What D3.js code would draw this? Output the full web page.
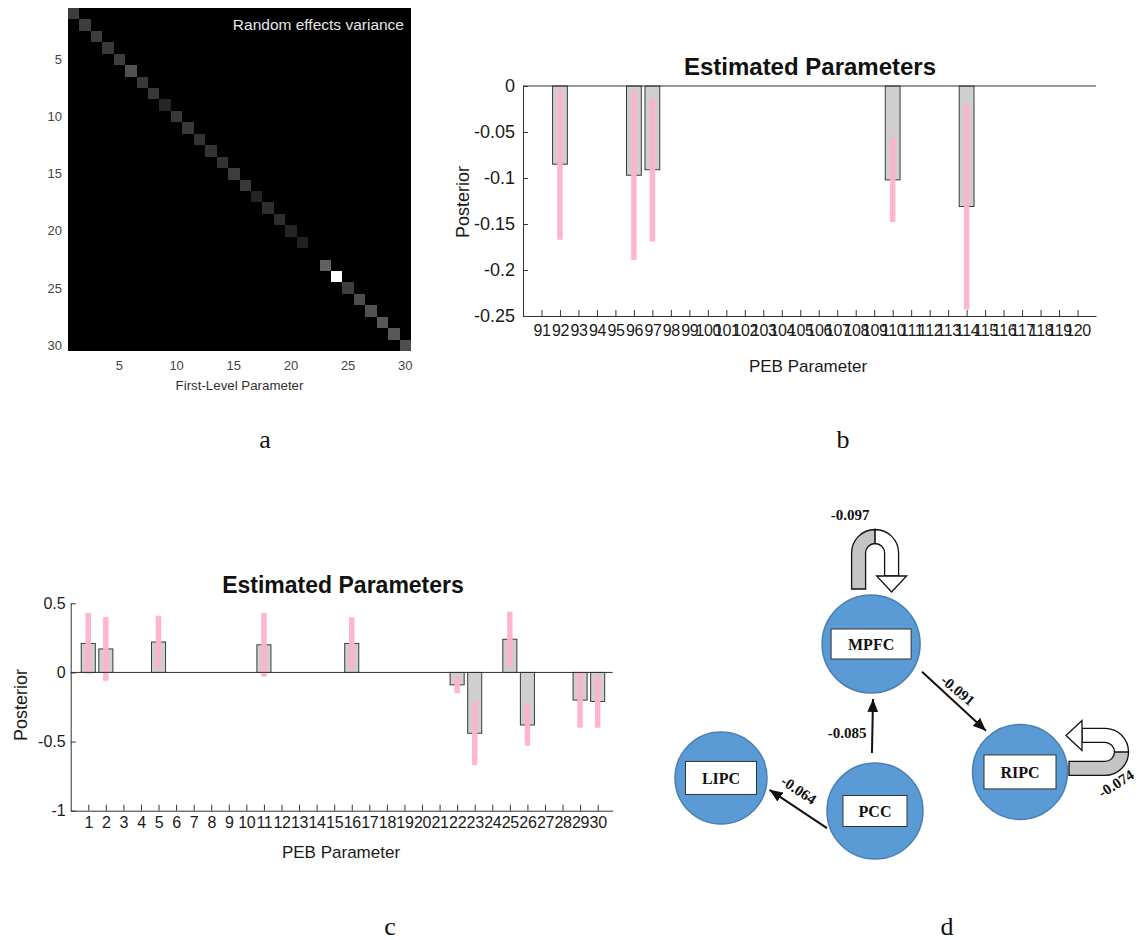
<!DOCTYPE html>
<html>
<head>
<meta charset="utf-8">
<style>
  body { margin: 0; background: #fff; }
  svg { display: block; font-family: "Liberation Sans", Arial, sans-serif; }
</style>
</head>
<body>
<svg id="fig" width="1138" height="940"></svg>
<script src="https://d3js.org/d3.v7.min.js"></script>
<script>
// ---------- panel a : random effects variance (diagonal of 30 x 30 matrix)
const firstLevelParams = [1, 2, 3, 4, 5, 6, 7, 8, 9, 10, 11, 12, 13, 14, 15,
  16, 17, 18, 19, 20, 21, 22, 23, 24, 25, 26, 27, 28, 29, 30];
const reVarianceDiag = [0.24, 0.24, 0.24, 0.22, 0.24, 0.32, 0.22, 0.22, 0.15, 0.22,
  0.22, 0.2, 0.2, 0.2, 0.24, 0.22, 0.14, 0.18, 0.18, 0.14,
  0.13, 0.0, 0.38, 1.0, 0.24, 0.3, 0.32, 0.34, 0.34, 0.3];
const aTicks = [5, 10, 15, 20, 25, 30];

// ---------- panel b : estimated parameters 91..120
const pebParamsB = [91, 92, 93, 94, 95, 96, 97, 98, 99, 100, 101, 102, 103, 104, 105,
  106, 107, 108, 109, 110, 111, 112, 113, 114, 115, 116, 117, 118, 119, 120];
const posteriorB = [0, -0.085, 0, 0, 0, -0.097, -0.091, 0, 0, 0, 0, 0, 0, 0, 0,
  0, 0, 0, 0, -0.102, 0, 0, 0, -0.131, 0, 0, 0, 0, 0, 0];
const ciB = [0, 0.082, 0, 0, 0, 0.092, 0.078, 0, 0, 0, 0, 0, 0, 0, 0,
  0, 0, 0, 0, 0.046, 0, 0, 0, 0.112, 0, 0, 0, 0, 0, 0];
const bYTicks = [0, -0.05, -0.1, -0.15, -0.2, -0.25];

// ---------- panel c : estimated parameters 1..30
const pebParamsC = firstLevelParams;
const posteriorC = [0.21, 0.17, 0, 0, 0.22, 0, 0, 0, 0, 0, 0.2, 0, 0, 0, 0,
  0.21, 0, 0, 0, 0, 0, -0.09, -0.44, 0, 0.24, -0.38, 0, 0, -0.2, -0.21];
const ciC = [0.22, 0.23, 0, 0, 0.19, 0, 0, 0, 0, 0, 0.23, 0, 0, 0, 0,
  0.19, 0, 0, 0, 0, 0, 0.06, 0.23, 0, 0.2, 0.15, 0, 0, 0.2, 0.19];
const cYTicks = [0.5, 0, -0.5, -1];

// ---------- panel d : effective connectivity diagram
const regions = ["MPFC", "RIPC", "LIPC", "PCC"];
const regionCol = [0.502, 1.0, 0.0, 0.515];   // layout units
const regionRow = [0.0, 0.766, 0.802, 1.0];
const connFrom = ["PCC", "MPFC", "PCC"];
const connTo = ["MPFC", "RIPC", "LIPC"];
const connValue = [-0.085, -0.091, -0.064];
const selfRegion = ["MPFC", "RIPC"];
const selfValue = [-0.097, -0.074];

const panelLetters = ["a", "b", "c", "d"];

const svg = d3.select("#fig");

// ================= panel a =================
(function () {
  const x = d3.scaleBand().domain(firstLevelParams).range([68, 411]);
  const y = d3.scaleBand().domain(firstLevelParams).range([8, 351]);
  const grey = d3.scaleLinear().domain([0, 1]).range(["#000", "#fff"]);

  const cells = [];
  firstLevelParams.forEach((r, i) => firstLevelParams.forEach((c, j) => {
    cells.push({ r, c, v: i === j ? reVarianceDiag[i] : 0 });
  }));

  const g = svg.append("g");
  g.append("rect").attr("x", 68).attr("y", 8).attr("width", 343).attr("height", 343)
    .attr("fill", "#000");
  g.selectAll(".cell").data(cells).join("rect")
    .attr("x", d => x(d.c)).attr("y", d => y(d.r))
    .attr("width", x.bandwidth()).attr("height", y.bandwidth())
    .attr("shape-rendering", "crispEdges")
    .attr("fill", d => grey(d.v));

  g.append("text").attr("x", 404).attr("y", 30).attr("text-anchor", "end")
    .attr("fill", "#e6e6e6").attr("font-size", 15.5).text("Random effects variance");

  g.selectAll(".yl").data(aTicks).join("text")
    .attr("x", 62).attr("y", d => y(d) + y.bandwidth() / 2 + 4.5)
    .attr("text-anchor", "end").attr("font-size", 13).attr("fill", "#444")
    .text(d => d);
  g.selectAll(".xl").data(aTicks).join("text")
    .attr("x", d => x(d) + x.bandwidth() / 2).attr("y", 370)
    .attr("text-anchor", "middle").attr("font-size", 13).attr("fill", "#444")
    .text(d => d);
  g.append("text").attr("x", 239.5).attr("y", 390).attr("text-anchor", "middle")
    .attr("font-size", 13.3).attr("fill", "#333").text("First-Level Parameter");
})();

// ================= panels b and c (spm style bar + ci) =================
function barPanel(cfg) {
  const g = svg.append("g");
  const x = d3.scaleLinear().domain(cfg.xDomain).range(cfg.xRange);
  const y = d3.scaleLinear().domain(cfg.yDomain).range(cfg.yRange);
  const data = cfg.params.map((p, i) => ({ p, v: cfg.values[i], ci: cfg.ci[i] }));
  const bw = x(0.8) - x(0);

  g.selectAll(".bar").data(data.filter(d => d.v !== 0)).join("rect")
    .attr("x", d => x(d.p) - bw / 2)
    .attr("y", d => Math.min(y(d.v), y(0)))
    .attr("width", bw)
    .attr("height", d => Math.abs(y(d.v) - y(0)))
    .attr("fill", "#cfcfcf").attr("stroke", "#3a3a3a").attr("stroke-width", 1);

  g.selectAll(".ci").data(data.filter(d => d.ci > 0)).join("line")
    .attr("x1", d => x(d.p)).attr("x2", d => x(d.p))
    .attr("y1", d => y(d.v - d.ci)).attr("y2", d => y(d.v + d.ci))
    .attr("stroke", "#ffb3c8").attr("stroke-width", 5.5).attr("opacity", 0.95);

  // zero line
  g.append("line").attr("x1", cfg.xRange[0]).attr("x2", cfg.xRange[1])
    .attr("y1", y(0)).attr("y2", y(0)).attr("stroke", "#333").attr("stroke-width", 1);

  const xAxis = d3.axisBottom(x).tickValues(cfg.params).tickFormat(d => d)
    .tickSizeInner(-6).tickSizeOuter(0).tickPadding(cfg.xPad);
  const yAxis = d3.axisLeft(y).tickValues(cfg.yTicks).tickFormat(d => String(d))
    .tickSizeInner(-5).tickSizeOuter(0).tickPadding(cfg.yPad);

  const gx = g.append("g").attr("transform", `translate(0,${cfg.yRange[0]})`).call(xAxis);
  const gy = g.append("g").attr("transform", `translate(${cfg.xRange[0]},0)`).call(yAxis);
  [gx, gy].forEach(a => {
    a.select(".domain").attr("stroke", "#333");
    a.selectAll(".tick line").attr("stroke", "#333");
    a.selectAll("text").attr("fill", "#1a1a1a")
      .attr("font-family", "'Liberation Sans', Arial, sans-serif");
  });
  gx.selectAll("text").attr("font-size", cfg.xFont).attr("letter-spacing", cfg.xSpacing);
  gy.selectAll("text").attr("font-size", cfg.yFont);

  g.append("text").attr("x", cfg.titleX).attr("y", cfg.titleY).attr("text-anchor", "middle")
    .attr("font-weight", "bold").attr("font-size", cfg.titleSize).attr("fill", "#111")
    .text("Estimated Parameters");
  g.append("text").attr("x", cfg.xLabelX).attr("y", cfg.xLabelY).attr("text-anchor", "middle")
    .attr("font-size", 17).attr("fill", "#1a1a1a").text("PEB Parameter");
  g.append("text")
    .attr("transform", `translate(${cfg.yLabelX},${cfg.yLabelY}) rotate(-90)`)
    .attr("text-anchor", "middle").attr("font-size", 18).attr("fill", "#1a1a1a")
    .text("Posterior");
}

barPanel({
  params: pebParamsB, values: posteriorB, ci: ciB, yTicks: bYTicks,
  xDomain: [90, 121], xRange: [523, 1096],
  yDomain: [-0.25, 0], yRange: [316, 86],
  xPad: 9, yPad: 8, xFont: 16, xSpacing: -0.4, yFont: 18,
  titleX: 810, titleY: 75, titleSize: 24,
  xLabelX: 808, xLabelY: 372, yLabelX: 469, yLabelY: 202
});

barPanel({
  params: pebParamsC, values: posteriorC, ci: ciC, yTicks: cYTicks,
  xDomain: [0, 30.85], xRange: [70.7, 612.6],
  yDomain: [-1, 0.5], yRange: [810.7, 603.3],
  xPad: 6, yPad: 5, xFont: 16, xSpacing: -0.3, yFont: 16,
  titleX: 343, titleY: 593, titleSize: 23,
  xLabelX: 341, xLabelY: 858, yLabelX: 27, yLabelY: 705
});

// ================= panel d =================
(function () {
  const g = svg.append("g").attr("font-family", "'Liberation Serif', 'Times New Roman', serif");
  const px = d3.scaleLinear().domain([0, 1]).range([721, 1020]);
  const py = d3.scaleLinear().domain([0, 1]).range([644, 811]);

  const nodeR = { MPFC: 49, RIPC: 47.5, LIPC: 46, PCC: 48 };
  const boxW = { MPFC: 80, RIPC: 72, LIPC: 71, PCC: 64 };
  const boxH = { MPFC: 30, RIPC: 34, LIPC: 33, PCC: 31 };
  const nodes = regions.map((name, i) => ({
    name, x: px(regionCol[i]), y: py(regionRow[i]), r: nodeR[name]
  }));
  const byName = Object.fromEntries(nodes.map(n => [n.name, n]));

  g.append("defs").append("marker")
    .attr("id", "ah").attr("viewBox", "0 0 12 10").attr("refX", 12).attr("refY", 5)
    .attr("markerWidth", 13).attr("markerHeight", 11).attr("markerUnits", "userSpaceOnUse")
    .attr("orient", "auto")
    .append("path").attr("d", "M0,0 L12,5 L0,10 Z").attr("fill", "#111");

  const ng = g.selectAll(".node").data(nodes).join("g")
    .attr("transform", d => `translate(${d.x},${d.y})`);
  ng.append("circle").attr("r", d => d.r)
    .attr("fill", "#5b9bd5").attr("stroke", "#4a7fb0").attr("stroke-width", 1.5);
  ng.append("rect")
    .attr("x", d => -boxW[d.name] / 2).attr("y", d => -boxH[d.name] / 2)
    .attr("width", d => boxW[d.name]).attr("height", d => boxH[d.name])
    .attr("fill", "#fff").attr("stroke", "#333").attr("stroke-width", 1);
  ng.append("text").attr("text-anchor", "middle").attr("y", 6)
    .attr("font-weight", "bold").attr("font-size", 16).attr("fill", "#111")
    .text(d => d.name);

  // attachment angles / gaps and label placement for each connection
  const connLayout = [
    { a0: -93, a1: 88, g0: 10, g1: 6, ldx: -6, ldy: 11.5, rot: 0, anchor: "end" },
    { a0: 28.6, a1: -129.5, g0: 9, g1: 6, ldx: 4, ldy: -11, rot: 40, anchor: "middle" },
    { a0: 160.3, a1: 13.8, g0: 3, g1: 4, ldx: 0.6, ldy: -19, rot: 34, anchor: "middle" }
  ];
  const pt = (n, ang, gap) => {
    const a = ang * Math.PI / 180;
    return [n.x + (n.r + gap) * Math.cos(a), n.y + (n.r + gap) * Math.sin(a)];
  };
  const conns = connFrom.map((f, i) => {
    const L = connLayout[i];
    const p0 = pt(byName[f], L.a0, L.g0), p1 = pt(byName[connTo[i]], L.a1, L.g1);
    return { p0, p1, v: connValue[i], L };
  });
  g.selectAll(".edge").data(conns).join("line")
    .attr("x1", d => d.p0[0]).attr("y1", d => d.p0[1])
    .attr("x2", d => d.p1[0]).attr("y2", d => d.p1[1])
    .attr("stroke", "#111").attr("stroke-width", 2).attr("marker-end", "url(#ah)");
  g.selectAll(".elab").data(conns).join("text")
    .attr("transform", d => {
      const mx = (d.p0[0] + d.p1[0]) / 2 + d.L.ldx, my = (d.p0[1] + d.p1[1]) / 2 + d.L.ldy;
      return `translate(${mx},${my}) rotate(${d.L.rot})`;
    })
    .attr("text-anchor", d => d.L.anchor)
    .attr("dy", d => d.L.anchor === "end" ? 0 : "0.35em")
    .attr("font-weight", "bold").attr("font-size", 15).attr("fill", "#111")
    .text(d => d.v.toFixed(3));

  // self connections: curved block arrows
  const ro = 23.5, ri = 9.5, legGrey = 36, legWhite = 23, head = 16, headHalf = 15;
  const selfLayout = [
    { ox: 4, oy: -91, m: [1, 0, 0, 1], lx: -21, ly: -124, lrot: 0 },
    { ox: 85, oy: -20, m: [0, -1, -1, 0], lx: 96, ly: 11.5, lrot: -32 }
  ];
  selfRegion.forEach((name, i) => {
    const n = byName[name], L = selfLayout[i];
    const lg = g.append("g")
      .attr("transform", `matrix(${L.m.join(",")},${n.x + L.ox},${n.y + L.oy})`);
    const greyPath = d3.path();
    greyPath.moveTo(-ro, legGrey); greyPath.lineTo(-ro, 0);
    greyPath.arc(0, 0, ro, Math.PI, 1.5 * Math.PI);
    greyPath.lineTo(0, -ri);
    greyPath.arc(0, 0, ri, 1.5 * Math.PI, Math.PI, true);
    greyPath.lineTo(-ri, legGrey); greyPath.closePath();
    const whitePath = d3.path();
    whitePath.moveTo(0, -ro);
    whitePath.arc(0, 0, ro, 1.5 * Math.PI, 2 * Math.PI);
    whitePath.lineTo(ro, legWhite); whitePath.lineTo(ri, legWhite); whitePath.lineTo(ri, 0);
    whitePath.arc(0, 0, ri, 2 * Math.PI, 1.5 * Math.PI, true);
    whitePath.closePath();
    const c = (ro + ri) / 2;
    const headPath = d3.path();
    headPath.moveTo(c - headHalf, legWhite); headPath.lineTo(c + headHalf, legWhite);
    headPath.lineTo(c, legWhite + head); headPath.closePath();
    lg.append("path").attr("d", greyPath.toString())
      .attr("fill", "#c4c4c4").attr("stroke", "#111").attr("stroke-width", 1.3);
    lg.append("path").attr("d", whitePath.toString())
      .attr("fill", "#fff").attr("stroke", "#111").attr("stroke-width", 1.3);
    lg.append("path").attr("d", headPath.toString())
      .attr("fill", "#fff").attr("stroke", "#111").attr("stroke-width", 1.3);

    g.append("text")
      .attr("transform", `translate(${n.x + L.lx},${n.y + L.ly}) rotate(${L.lrot})`)
      .attr("text-anchor", "middle").attr("dy", L.lrot ? "0.35em" : 0)
      .attr("font-weight", "bold").attr("font-size", 15).attr("fill", "#111")
      .text(selfValue[i].toFixed(3));
  });
})();

// ================= panel letters =================
const letterX = [265, 843, 390, 947];
const letterY = [448, 448, 935, 935];
svg.selectAll(".letter").data(panelLetters).join("text")
  .attr("x", (d, i) => letterX[i]).attr("y", (d, i) => letterY[i])
  .attr("text-anchor", "middle")
  .attr("font-family", "'Liberation Serif', 'Times New Roman', serif")
  .attr("font-size", 26).attr("fill", "#111")
  .text(d => d);
</script>
</body>
</html>
